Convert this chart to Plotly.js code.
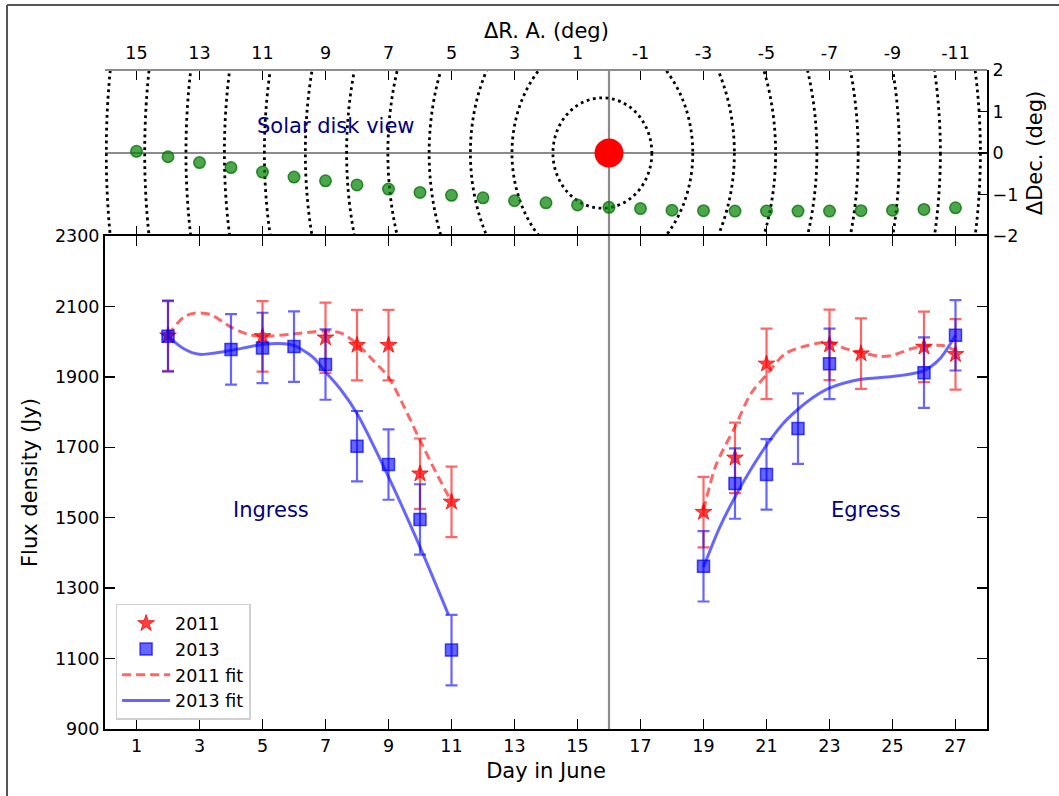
<!DOCTYPE html>
<html>
<head>
<meta charset="utf-8">
<script src="https://cdn.plot.ly/plotly-3.0.1.min.js"></script>
<style>html,body{margin:0;padding:0;background:#fff;}#chart{width:1059px;height:796px;}</style>
</head>
<body>
<div id="chart"></div>
<script>
// ---- Flux density data (Jy) ----
const days2011 = [2, 5, 7, 8, 9, 10, 11, 19, 20, 21, 23, 24, 26, 27];
const flux2011 = [2017, 2015, 2011, 1990, 1990, 1625, 1545, 1516, 1670, 1937, 1991, 1966, 1985, 1964];
const err2011  = [100, 100, 100, 100, 100, 100, 100, 100, 100, 100, 100, 100, 100, 100];

const days2013 = [2, 4, 5, 6, 7, 8, 9, 10, 11, 19, 20, 21, 22, 23, 26, 27];
const flux2013 = [2015, 1978, 1982, 1986, 1935, 1703, 1651, 1495, 1124, 1362, 1597, 1623, 1753, 1937, 1912, 2018];
const err2013  = [100, 100, 100, 100, 100, 100, 100, 100, 100, 100, 100, 100, 100, 100, 100, 100];

// ---- Fit curves ----
const fit2011Days = [2, 2.5, 2.85, 3.35, 4, 4.5, 5, 6, 7, 7.5, 8, 8.5, 9, 9.5, 10, 10.5, 11,
                     null,
                     19, 19.4, 20, 20.5, 21, 21.6, 22.3, 23, 23.5, 24, 24.6, 25, 25.6, 26, 26.6, 27];
const fit2011Flux = [2018, 2070, 2081, 2077, 2041, 2022, 2015, 2022, 2030, 2024, 1994, 1948, 1899, 1814, 1720, 1630, 1545,
                     null,
                     1521, 1650, 1758, 1852, 1906, 1966, 1989, 1999, 1980, 1970, 1958, 1961, 1980, 1987, 1989, 1975];
const fit2013Days = [2, 2.5, 3, 3.5, 4, 5, 5.7, 6, 6.6, 7, 7.5, 8, 9, 10, 10.9,
                     null,
                     19, 19.5, 20, 20.5, 21, 21.5, 22, 22.5, 23, 24, 25, 26, 26.5, 27];
const fit2013Flux = [2015, 1980, 1964, 1968, 1975, 1992, 1994, 1989, 1956, 1914, 1862, 1796, 1616, 1417, 1225,
                     null,
                     1360, 1470, 1559, 1637, 1706, 1765, 1808, 1843, 1868, 1893, 1901, 1918, 1951, 2018];

// ---- Solar disk view ----
const pathRA  = [15, 14, 13, 12, 11, 10, 9, 8, 7, 6, 5, 4, 3, 2, 1, 0, -1, -2, -3, -4, -5, -6, -7, -8, -9, -10, -11];
const pathDec = [0.04, -0.09, -0.23, -0.35, -0.46, -0.58, -0.67, -0.77, -0.87, -0.95, -1.02, -1.08, -1.15, -1.20, -1.25, -1.31,
                 -1.34, -1.38, -1.39, -1.40, -1.40, -1.40, -1.40, -1.39, -1.38, -1.36, -1.32];
const sunRA = [0], sunDec = [0];
const ringCenterRA = 0.21;
const ringRadiusRA  = [1.57, 2.87, 4.19, 5.50, 6.81, 8.12, 9.43, 10.73, 12.0, 13.22, 14.53, 15.75];
const ringRadiusDec = [1.33, 2.80, 4.14, 5.50, 6.81, 8.12, 9.43, 10.73, 12.0, 13.22, 14.53, 15.75];

// ---- Tick labels ----
const dayTicks = [1, 3, 5, 7, 9, 11, 13, 15, 17, 19, 21, 23, 25, 27];
const raTicks = [15, 13, 11, 9, 7, 5, 3, 1, -1, -3, -5, -7, -9, -11];
const raTickText = ['15', '13', '11', '9', '7', '5', '3', '1', '-1', '-3', '-5', '-7', '-9', '-11'];
const fluxTicks = [900, 1100, 1300, 1500, 1700, 1900, 2100, 2300];
const decTicks = [-2, -1, 0, 1, 2];

const FONT = 'DejaVu Sans, sans-serif';
const TICKF = {family: FONT, size: 17.5, color: '#000'};
const TITLEF = {family: FONT, size: 21, color: '#000'};

const traces = [
  {x: fit2011Days, y: fit2011Flux, xaxis: 'x', yaxis: 'y', type: 'scatter', mode: 'lines', name: '2011 fit',
   legendrank: 3, connectgaps: false,
   line: {color: 'rgba(255,0,0,0.6)', width: 3, dash: '9px,5px', shape: 'spline', smoothing: 0.8}},
  {x: fit2013Days, y: fit2013Flux, xaxis: 'x', yaxis: 'y', type: 'scatter', mode: 'lines', name: '2013 fit',
   legendrank: 4, connectgaps: false,
   line: {color: 'rgba(0,0,255,0.6)', width: 3, shape: 'spline', smoothing: 0.8}},
  {x: days2011, y: flux2011, xaxis: 'x', yaxis: 'y', type: 'scatter', mode: 'markers', name: '2011', legendrank: 1,
   marker: {symbol: 'star', size: 12.5, color: 'rgba(255,0,0,0.75)', line: {color: 'rgba(255,0,0,0.8)', width: 1}},
   error_y: {type: 'data', array: err2011, visible: true, color: 'rgba(255,0,0,0.6)', thickness: 2.2, width: 6}},
  {x: days2013, y: flux2013, xaxis: 'x', yaxis: 'y', type: 'scatter', mode: 'markers', name: '2013', legendrank: 2,
   marker: {symbol: 'square', size: 12, color: 'rgba(0,0,255,0.6)', line: {color: 'rgba(0,0,255,0.7)', width: 1.5}},
   error_y: {type: 'data', array: err2013, visible: true, color: 'rgba(0,0,255,0.6)', thickness: 2.2, width: 6}},
  {x: pathRA, y: pathDec, xaxis: 'x2', yaxis: 'y2', type: 'scatter', mode: 'markers', showlegend: false,
   marker: {size: 11.5, color: 'rgba(0,128,0,0.7)', line: {color: 'rgba(0,110,0,0.75)', width: 1.5}}},
  {x: sunRA, y: sunDec, xaxis: 'x2', yaxis: 'y2', type: 'scatter', mode: 'markers', showlegend: false,
   marker: {size: 29, color: '#ff0000', line: {width: 0}}}
];

const shapes = [];
ringRadiusRA.forEach(function (a, i) {
  const b = ringRadiusDec[i];
  shapes.push({type: 'circle', xref: 'x2', yref: 'y2', layer: 'below',
    x0: ringCenterRA - a, x1: ringCenterRA + a, y0: -b, y1: b,
    line: {color: '#000', width: 2.8, dash: '2.8px,3.6px'}});
});
// vertical gray line at RA 0 / day 16 through both panels
shapes.push({type: 'line', xref: 'x', yref: 'paper', x0: 16, x1: 16, y0: 0, y1: 1, layer: 'below',
  line: {color: '#8c8c8c', width: 2.2}});
// horizontal gray line at Dec 0
shapes.push({type: 'line', xref: 'paper', yref: 'y2', x0: 0, x1: 1, y0: 0, y1: 0, layer: 'below',
  line: {color: '#8c8c8c', width: 2.2}});
// gray top border of solar panel
shapes.push({type: 'line', xref: 'paper', yref: 'paper', x0: 0, x1: 1, y0: 1, y1: 1,
  line: {color: '#8c8c8c', width: 2}});
// figure outer frame (left & top)
shapes.push({type: 'line', xref: 'paper', yref: 'paper', x0: -0.1111, x1: -0.1111, y0: -0.11, y1: 1.0986,
  line: {color: '#555', width: 2}});
shapes.push({type: 'line', xref: 'paper', yref: 'paper', x0: -0.1111, x1: 1.09, y0: 1.0986, y1: 1.0986,
  line: {color: '#555', width: 2}});

const layout = {
  width: 1059, height: 796,
  margin: {l: 105, r: 72, t: 70, b: 67, pad: 0},
  paper_bgcolor: '#fff', plot_bgcolor: '#fff',
  font: {family: FONT, size: 17.5, color: '#000'},
  showlegend: true,
  legend: {x: 0.012, y: 0.0137, xanchor: 'left', yanchor: 'bottom', bgcolor: 'rgba(255,255,255,0.9)',
    bordercolor: '#d0d0d0', borderwidth: 1.5, font: {family: FONT, size: 17.5, color: '#000'},
    traceorder: 'normal', tracegroupgap: 0, itemwidth: 48},
  xaxis: {domain: [0, 1], anchor: 'y', range: [0, 28], tickmode: 'array', tickvals: dayTicks,
    ticks: 'inside', ticklen: 10, tickwidth: 1.5, tickcolor: '#000', showline: true, linecolor: '#000', linewidth: 2,
    mirror: 'ticks', showgrid: false, zeroline: false, tickfont: TICKF,
    title: {text: 'Day in June', font: TITLEF, standoff: 8}},
  yaxis: {domain: [0, 0.7481], anchor: 'x', range: [900, 2300], tickmode: 'array', tickvals: fluxTicks,
    ticks: 'inside', ticklen: 10, tickwidth: 1.5, tickcolor: '#000', showline: true, linecolor: '#000', linewidth: 2,
    mirror: 'ticks', showgrid: false, zeroline: false, tickfont: TICKF,
    title: {text: 'Flux density (Jy)', font: TITLEF, standoff: 12}},
  xaxis2: {domain: [0, 1], anchor: 'y2', side: 'top', range: [16, -12], tickmode: 'array', tickvals: raTicks,
    ticktext: raTickText, ticks: 'inside', ticklen: 10, tickwidth: 1.5, tickcolor: '#000', showline: false,
    mirror: 'ticks', showgrid: false, zeroline: false, tickfont: TICKF, ticklabelstandoff: 7},
  yaxis2: {domain: [0.7481, 1], anchor: 'x2', side: 'right', range: [-2, 2], tickmode: 'array', tickvals: decTicks,
    ticks: 'inside', ticklen: 9, tickwidth: 1.5, tickcolor: '#000', showline: true, linecolor: '#000', linewidth: 2,
    showgrid: false, zeroline: false, tickfont: TICKF,
    title: {text: 'ΔDec. (deg)', font: TITLEF, standoff: 10}},
  yaxis3: {overlaying: 'y2', side: 'left', anchor: 'x2', range: [-2, 2], tickmode: 'array', tickvals: [-1, 0, 1],
    ticks: 'inside', ticklen: 9, tickwidth: 1.5, tickcolor: '#000', showticklabels: false, showline: false,
    showgrid: false, zeroline: false},
  shapes: shapes,
  annotations: [
    {xref: 'paper', yref: 'paper', x: 0.5, y: 1, yanchor: 'middle', yshift: 39, text: 'ΔR. A. (deg)',
     showarrow: false, font: TITLEF},
    {xref: 'x2', yref: 'y2', x: 8.67, y: 0.65, text: 'Solar disk view', showarrow: false,
     font: {family: FONT, size: 21, color: '#000080'}},
    {xref: 'x', yref: 'y', x: 5.27, y: 1522, text: 'Ingress', showarrow: false,
     font: {family: FONT, size: 21, color: '#000080'}},
    {xref: 'x', yref: 'y', x: 24.16, y: 1522, text: 'Egress', showarrow: false,
     font: {family: FONT, size: 21, color: '#000080'}}
  ]
};

Plotly.newPlot('chart', traces, layout, {displayModeBar: false, staticPlot: true});
</script>
</body>
</html>
